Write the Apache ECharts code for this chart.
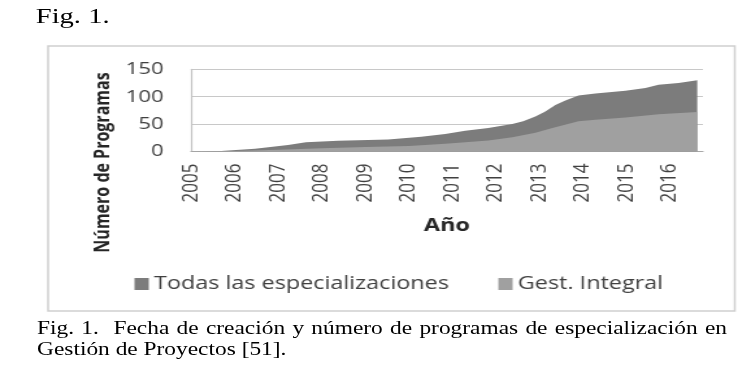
<!DOCTYPE html>
<html>
<head>
<meta charset="utf-8">
<script src="https://cdn.jsdelivr.net/npm/echarts@6/dist/echarts.min.js"></script>
<style>
  html, body { margin: 0; padding: 0; background: #fff; overflow: hidden; }
  #wrap { position: absolute; left: 0; top: 0; width: 568px; height: 366px; transform-origin: 0 0; transform: scaleX(1.2993); }
  #chart { position: absolute; left: 0; top: 0; width: 568px; height: 366px; }
  .serif { font-family: "Liberation Serif", "DejaVu Serif", serif; color: #000; position: absolute; white-space: nowrap; }
  #fig { left: 27.5px; top: 5px; font-size: 22px; line-height: 22px; }
  #cap1 { left: 28.5px; top: 318.5px; width: 531px; font-size: 18px; line-height: 19px; text-align: justify; text-align-last: justify; white-space: normal; }
  #cap2 { left: 28.5px; top: 339.5px; font-size: 18px; line-height: 19px; }
</style>
</head>
<body>
<div id="wrap">
  <div id="chart"></div>
  <div id="fig" class="serif">Fig. 1.</div>
  <div id="cap1" class="serif">Fig. 1.&nbsp; Fecha de creación y número de programas de especialización en</div>
  <div id="cap2" class="serif">Gestión de Proyectos [51].</div>
</div>
<script>
// Data (year as decimal, cumulative number of programmes)
const seriesNames = ['Todas las especializaciones', 'Gest. Integral'];
const todasYears = [2005.0, 2005.69, 2006.47, 2007.23, 2007.64, 2008.38, 2009.53, 2010.29, 2010.84, 2011.30, 2011.83, 2012.38, 2012.63, 2012.91, 2013.14, 2013.37, 2013.60, 2013.90, 2014.29, 2014.98, 2015.44, 2015.74, 2016.20, 2016.63];
const todasValues = [0, 1, 5, 12, 17, 19.5, 22, 27, 32, 38, 43, 50, 55, 64, 73, 85, 93, 102, 106, 111, 116, 122, 125, 130];
const gestYears = [2005.0, 2006.0, 2007.0, 2008.0, 2009.0, 2010.0, 2010.84, 2011.30, 2011.83, 2012.38, 2012.91, 2013.30, 2013.90, 2014.29, 2014.98, 2015.74, 2016.63];
const gestValues = [0, 1, 3, 6, 8, 10, 14, 17, 20, 26, 34, 43, 55, 58, 62, 68, 72];
const yearTicks = [2005, 2006, 2007, 2008, 2009, 2010, 2011, 2012, 2013, 2014, 2015, 2016];
const yTicks = [0, 50, 100, 150];
const xTitle = 'Año';
const yTitle = 'Número de Programas';

const pair = (xs, ys) => xs.map((x, i) => [x, ys[i]]);
const chart = echarts.init(document.getElementById('chart'), null, { renderer: 'canvas' });
const font = '"Open Sans", "Noto Sans", sans-serif';
chart.setOption({
  animation: false,
  textStyle: { fontFamily: font },
  graphic: [
    {
      type: 'rect', shape: { x: 37, y: 46, width: 528.5, height: 265 },
      style: { fill: 'none', stroke: '#cfcfcf', lineWidth: 1.5 }, z: 0
    },
    {
      type: 'text', x: 79, y: 162.5, rotation: Math.PI / 2,
      style: { text: yTitle, fontFamily: font, fontSize: 16, fontWeight: 'bold', fill: '#262626', align: 'center', verticalAlign: 'middle' },
      z: 5
    }
  ],
  grid: { left: 147, top: 69.3, width: 394, height: 82.2, containLabel: false },
  legend: {
    data: seriesNames, left: 98.5, top: 270, itemWidth: 11, itemHeight: 12, itemGap: 38,
    icon: 'rect',
    textStyle: { fontFamily: font, fontSize: 18, color: '#404040', padding: [0, 0, 0, -1] }
  },
  xAxis: {
    type: 'value', min: 2005, max: 2016.76, interval: 1,
    name: xTitle, nameLocation: 'middle', nameGap: 65,
    nameTextStyle: { fontFamily: font, fontSize: 18, fontWeight: 'bold', color: '#262626' },
    axisLine: { show: true, lineStyle: { color: '#a8a8a8', width: 1.2 } },
    axisTick: { show: false },
    splitLine: { show: false },
    axisLabel: {
      rotate: 90, margin: 12, fontSize: 17, color: '#404040', fontFamily: font,
      formatter: v => (yearTicks.indexOf(v) >= 0 ? String(v) : '')
    }
  },
  yAxis: {
    type: 'value', min: yTicks[0], max: yTicks[yTicks.length - 1], interval: 50,
    axisLine: { show: true, lineStyle: { color: '#c4c4c4', width: 1.2 } },
    axisTick: { show: false },
    splitLine: { lineStyle: { color: '#c8c8c8', width: 1.2 } },
    axisLabel: { margin: 21, fontSize: 17, color: '#404040', fontFamily: font }
  },
  series: [
    {
      name: seriesNames[0], type: 'line', data: pair(todasYears, todasValues),
      showSymbol: false, lineStyle: { width: 0 }, itemStyle: { color: '#7c7c7c' },
      areaStyle: { color: '#7c7c7c', opacity: 1 }, z: 2
    },
    {
      name: seriesNames[1], type: 'line', data: pair(gestYears, gestValues),
      showSymbol: false, lineStyle: { width: 0 }, itemStyle: { color: '#a0a0a0' },
      areaStyle: { color: '#a0a0a0', opacity: 1 }, z: 3
    }
  ]
});
</script>
</body>
</html>
